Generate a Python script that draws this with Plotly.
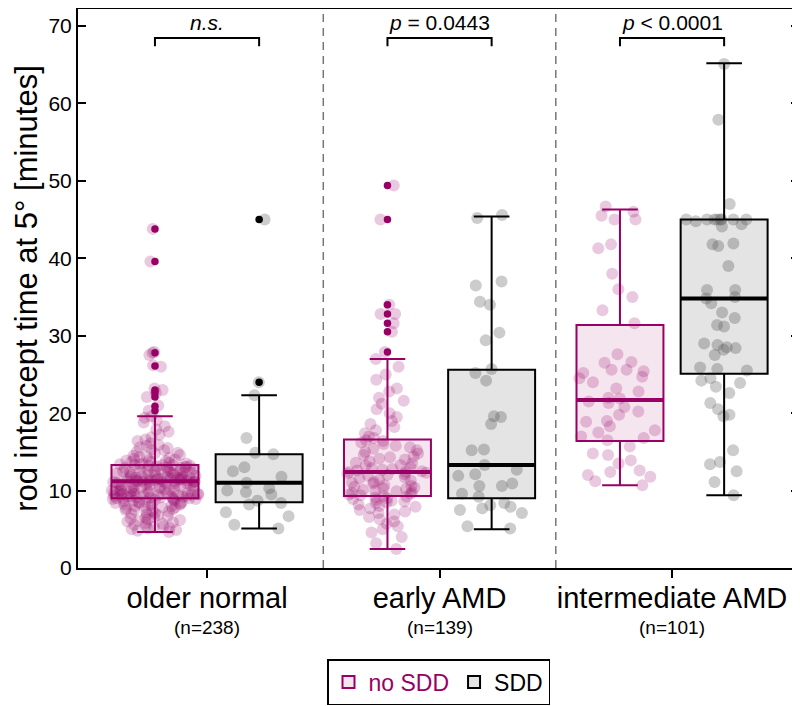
import plotly.graph_objects as go

# ---------------- data ----------------
groups = ["older normal", "early AMD", "intermediate AMD"]
group_n = ["(n=238)", "(n=139)", "(n=101)"]
p_labels = ["<i>n.s.</i>", "<i>p</i> = 0.0443", "<i>p</i> &lt; 0.0001"]
yticks = [0, 10, 20, 30, 40, 50, 60, 70]

# box statistics per group: older normal, early AMD, intermediate AMD
nosdd_q1 = [9.0, 9.3, 16.4]
nosdd_median = [11.2, 12.4, 21.7]
nosdd_q3 = [13.3, 16.6, 31.4]
nosdd_lower = [4.65, 2.45, 10.7]
nosdd_upper = [19.6, 27.0, 46.3]

sdd_q1 = [8.5, 9.0, 25.1]
sdd_median = [11.0, 13.3, 34.8]
sdd_q3 = [14.7, 25.6, 45.0]
sdd_lower = [5.1, 5.0, 9.4]
sdd_upper = [22.3, 45.4, 65.2]

# outliers (beyond whiskers)
nosdd_out_older = [43.8, 39.6, 27.8, 26.1, 23.0, 22.6, 22.1, 20.9, 20.3]
nosdd_out_early = [49.4, 45.0, 34.0, 32.8, 31.6, 30.5, 27.9]
nosdd_out_inter = []
sdd_out_older = [45.0, 24.0]
sdd_out_early = []
sdd_out_inter = []

# individual observations
nosdd_older = [
    43.8, 39.6, 27.9, 27.8, 27.5, 26.2, 26.0, 23.2, 23.0, 22.6, 22.1, 21.0, 20.3,
    19.6, 19.4, 19.1, 18.8, 18.3, 17.9, 17.6, 17.2, 16.9, 16.6, 16.4, 16.1,
    15.9, 15.8, 15.6, 15.5, 15.3, 15.2, 15.0, 14.9, 14.8, 14.6, 14.5, 14.4, 14.3,
    14.2, 14.1, 14.0, 13.9, 13.9, 13.8, 13.7, 13.7, 13.6, 13.5, 13.5, 13.4, 13.4,
    13.3, 13.3, 13.3,
    13.2, 13.2, 13.1, 13.1, 13.0, 13.0, 12.9, 12.9, 12.8, 12.8, 12.7, 12.7, 12.6,
    12.6, 12.5, 12.5, 12.4, 12.4, 12.3, 12.3, 12.2, 12.2, 12.1, 12.1, 12.0, 12.0,
    11.9, 11.9, 11.8, 11.8, 11.8, 11.7, 11.7, 11.7, 11.6, 11.6, 11.6, 11.5, 11.5,
    11.5, 11.4, 11.4, 11.4, 11.3, 11.3, 11.3, 11.3, 11.2, 11.2, 11.2, 11.2, 11.2,
    11.2, 11.2,
    11.1, 11.1, 11.0, 11.0, 11.0, 10.9, 10.9, 10.8, 10.8, 10.7, 10.7, 10.6, 10.6,
    10.5, 10.5, 10.4, 10.4, 10.3, 10.3, 10.2, 10.2, 10.1, 10.1, 10.0, 10.0, 10.0,
    9.9, 9.9, 9.8, 9.8, 9.8, 9.7, 9.7, 9.6, 9.6, 9.6, 9.5, 9.5, 9.5, 9.4, 9.4,
    9.4, 9.3, 9.3, 9.3, 9.2, 9.2, 9.2, 9.1, 9.1, 9.1, 9.0, 9.0, 9.0, 9.0,
    8.9, 8.9, 8.8, 8.8, 8.7, 8.7, 8.6, 8.6, 8.5, 8.5, 8.4, 8.4, 8.3, 8.3, 8.2,
    8.2, 8.1, 8.0, 8.0, 7.9, 7.8, 7.8, 7.7, 7.6, 7.5, 7.5, 7.4, 7.3, 7.2, 7.1,
    7.0, 6.9, 6.8, 6.7, 6.6, 6.5, 6.4, 6.3, 6.2, 6.1, 6.0, 5.9, 5.8, 5.7, 5.6,
    5.5, 5.4, 5.3, 5.2, 5.1, 5.0, 4.9, 4.8, 4.65,
]
nosdd_early = [
    49.4, 45.0, 34.0, 32.8, 32.8, 31.6, 30.5, 27.9,
    27.0, 26.0, 25.0, 24.3, 23.2, 22.8, 22.0, 21.6, 21.2, 20.5, 20.0, 19.5, 19.0,
    18.6, 18.2, 17.8, 17.4, 17.0, 16.8,
    16.5, 16.4, 16.2, 16.0, 15.8, 15.6, 15.4, 15.2, 15.0, 14.8, 14.6, 14.4, 14.3,
    14.1, 14.0, 13.8, 13.6, 13.5, 13.3, 13.2, 13.0, 12.9, 12.8, 12.7, 12.6, 12.5, 12.4,
    12.4, 12.3, 12.2, 12.1, 12.0, 11.9, 11.7, 11.6, 11.4, 11.3, 11.1, 11.0, 10.9,
    10.7, 10.6, 10.5, 10.4, 10.3, 10.2, 10.1, 10.0, 9.9, 9.8, 9.7, 9.6, 9.5, 9.4, 9.3,
    9.2, 9.1, 9.0, 8.9, 8.8, 8.7, 8.6, 8.5, 8.4, 8.2, 8.0, 7.9, 7.7, 7.5, 7.3, 7.1,
    6.9, 6.6, 6.3, 6.0, 5.7, 5.4, 5.0, 4.6, 4.0, 3.2, 2.45,
]
nosdd_inter = [
    46.7, 46.0, 45.5, 45.0, 45.0, 41.8, 41.3, 38.0, 36.0, 35.0, 33.3, 31.6, 27.6,
    26.6, 26.5, 25.6, 25.6, 25.4, 25.2, 24.7, 24.5, 24.0, 23.2, 22.8, 22.0, 21.9,
    21.5, 21.3, 20.8, 20.2, 19.8, 19.0, 18.9, 18.3, 17.8, 17.5, 17.0, 16.8, 16.5,
    15.7, 14.8, 14.6, 13.9, 13.5, 12.6, 12.4, 12.0, 11.8, 11.2, 10.7,
]
sdd_older = [
    45.0, 24.0, 22.3, 16.8, 14.9, 14.7, 13.0, 12.5, 11.8, 11.0, 10.3, 10.0, 9.8,
    9.5, 8.7, 8.4, 8.2, 7.2, 6.7, 5.6, 5.1,
]
sdd_early = [
    45.6, 45.2, 37.0, 36.5, 34.4, 34.0, 30.4, 29.4, 25.7, 25.2, 24.2, 19.6, 19.5,
    18.6, 15.3, 15.2, 13.3, 12.7, 12.1, 11.9, 10.9, 10.6, 10.6, 9.6, 9.2, 8.4, 8.1,
    7.9, 7.7, 7.5, 7.1, 5.4, 5.1,
]
sdd_inter = [
    65.1, 57.9, 47.0, 45.0, 45.0, 45.0, 45.0, 45.0, 45.0, 45.0, 45.0, 44.8, 44.4,
    44.1, 41.9, 41.8, 41.6, 39.0, 35.9, 35.9, 35.0, 34.8, 34.2, 33.0, 32.3, 31.4,
    31.2, 29.0, 28.8, 28.5, 28.4, 28.2, 27.5, 25.9, 25.7, 25.5, 24.5, 24.2, 23.9,
    23.4, 22.6, 21.3, 20.5, 19.8, 19.6, 15.2, 13.7, 13.4, 12.5, 11.1, 9.4,
]

# ---------------- styling ----------------
MAG = "#990066"
MAG_FILL = "rgba(153,0,102,0.10)"
MAG_PT = "rgba(153,0,102,0.21)"
BLK = "#000000"
GRY_FILL = "rgba(0,0,0,0.105)"
GRY_PT = "rgba(110,110,110,0.35)"
FONT = "Liberation Sans, Arial, sans-serif"

OFF = 0.224       # horizontal offset of each box from group centre
BW = 0.374        # box width (data units)

centers = list(range(len(groups)))
pos_nosdd = [c - OFF for c in centers]
pos_sdd = [c + OFF for c in centers]

fig = go.Figure()

# jittered points
def add_points(vals, pos, color):
    fig.add_trace(go.Box(
        y=vals, x0=pos, width=BW, boxpoints="all", jitter=1.0, pointpos=0,
        line=dict(width=0, color="rgba(0,0,0,0)"), fillcolor="rgba(0,0,0,0)",
        marker=dict(size=12, color=color, line=dict(width=0)),
        showlegend=False, hoverinfo="y",
    ))

for vals, p in zip([nosdd_older, nosdd_early, nosdd_inter], pos_nosdd):
    add_points(vals, p, MAG_PT)
for vals, p in zip([sdd_older, sdd_early, sdd_inter], pos_sdd):
    add_points(vals, p, GRY_PT)

# boxes from statistics
fig.add_trace(go.Box(
    x=pos_nosdd, q1=nosdd_q1, median=nosdd_median, q3=nosdd_q3,
    lowerfence=nosdd_lower, upperfence=nosdd_upper,
    width=BW, whiskerwidth=0.41, boxpoints=False,
    line=dict(color=MAG, width=2), fillcolor=MAG_FILL,
    name='<span style="color:#990066">no SDD</span>', legendgroup="a",
))
fig.add_trace(go.Box(
    x=pos_sdd, q1=sdd_q1, median=sdd_median, q3=sdd_q3,
    lowerfence=sdd_lower, upperfence=sdd_upper,
    width=BW, whiskerwidth=0.41, boxpoints=False,
    line=dict(color=BLK, width=2), fillcolor=GRY_FILL,
    name="SDD", legendgroup="b",
))

# thicker median lines
def median_line(pos, med, color):
    xs, ys = [], []
    for p, m in zip(pos, med):
        xs += [p - BW / 2, p + BW / 2, None]
        ys += [m, m, None]
    fig.add_trace(go.Scatter(x=xs, y=ys, mode="lines",
                             line=dict(color=color, width=4),
                             showlegend=False, hoverinfo="skip"))

median_line(pos_nosdd, nosdd_median, MAG)
median_line(pos_sdd, sdd_median, BLK)

# outliers
def outliers(lists, pos, color):
    xs, ys = [], []
    for vals, p in zip(lists, pos):
        xs += [p] * len(vals)
        ys += vals
    fig.add_trace(go.Scatter(x=xs, y=ys, mode="markers",
                             marker=dict(size=7.5, color=color),
                             showlegend=False, hoverinfo="y"))

outliers([nosdd_out_older, nosdd_out_early, nosdd_out_inter], pos_nosdd, MAG)
outliers([sdd_out_older, sdd_out_early, sdd_out_inter], pos_sdd, BLK)

# separators and significance brackets
shapes = []
for c in centers[:-1]:
    shapes.append(dict(type="line", xref="x", yref="paper", x0=c + 0.5, x1=c + 0.5,
                       y0=0, y1=1, line=dict(color="#777777", width=1.5, dash="8px,6px")))
BR_TOP, BR_BOT = 68.45, 67.4
annotations = []
for c, a, b, lab, n in zip(centers, pos_nosdd, pos_sdd, p_labels, group_n):
    shapes.append(dict(type="path", xref="x", yref="y",
                       path=f"M {a},{BR_BOT} L {a},{BR_TOP} L {b},{BR_TOP} L {b},{BR_BOT}",
                       line=dict(color="black", width=2)))
    annotations.append(dict(x=c, y=70.4, xref="x", yref="y", text=lab, showarrow=False,
                            font=dict(size=21, color="black", family=FONT)))
    annotations.append(dict(x=c, y=-0.106, xref="x", yref="paper", text=n, showarrow=False,
                            yanchor="middle",
                            font=dict(size=19, color="black", family=FONT)))

fig.update_layout(
    width=792, height=698,
    margin=dict(l=70, r=1, t=1, b=138),
    plot_bgcolor="white", paper_bgcolor="white",
    font=dict(family=FONT, color="black"),
    boxmode="overlay",
    shapes=shapes, annotations=annotations,
    showlegend=True,
    legend=dict(orientation="h", x=0.5, xanchor="center", y=-0.163, yanchor="top",
                bordercolor="black", borderwidth=1.5, font=dict(size=23, family=FONT),
                itemwidth=30, traceorder="normal"),
)
fig.update_xaxes(
    range=[-0.555, 2.546], tickvals=centers, ticktext=groups,
    tickfont=dict(size=29, family=FONT, color="black"),
    showline=True, linecolor="black", linewidth=2, mirror=True,
    ticks="outside", ticklen=8, tickwidth=2, tickcolor="black",
    ticklabelstandoff=-5,
    showgrid=False, zeroline=False, automargin=False,
)
fig.update_yaxes(
    range=[0, 72.2], tickvals=yticks,
    tickfont=dict(size=21, family=FONT, color="black"),
    title=dict(text="rod intercept time at 5° [minutes]",
               font=dict(size=31, family=FONT, color="black"), standoff=2),
    showline=True, linecolor="black", linewidth=2, mirror="ticks",
    ticks="inside", ticklen=8, tickwidth=1.5, tickcolor="black",
    showgrid=False, zeroline=False, automargin=False,
)

fig.write_html("out.html")
